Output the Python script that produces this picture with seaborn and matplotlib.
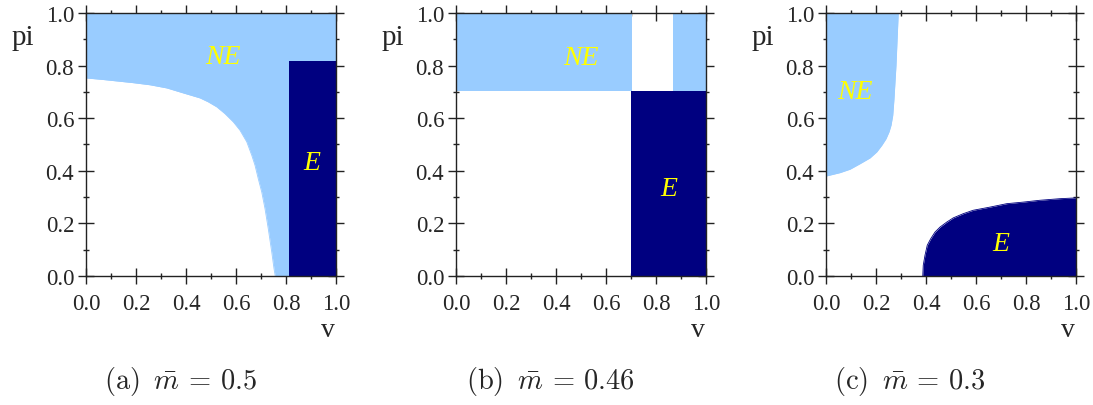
import numpy as np
import pandas as pd
import matplotlib.pyplot as plt
import seaborn as sns
from matplotlib.ticker import MultipleLocator

sns.set_theme(style='ticks')
plt.rcParams['font.family'] = ['Liberation Serif', 'DejaVu Serif']
plt.rcParams['mathtext.fontset'] = 'cm'

light_blue = '#99ccff'
navy = '#000080'
label_yellow = '#ffff00'

# (a) m = 0.5 : lower boundary of the NE region, E block
a_ne_v = [0.0, 0.069, 0.189, 0.256, 0.323, 0.389, 0.456, 0.489, 0.523, 0.556,
          0.589, 0.616, 0.643, 0.663, 0.676, 0.689, 0.703, 0.716, 0.729, 0.743,
          0.752, 0.757]
a_ne_low = [0.753, 0.747, 0.735, 0.727, 0.715, 0.696, 0.677, 0.662, 0.643, 0.617,
            0.586, 0.554, 0.510, 0.459, 0.421, 0.370, 0.319, 0.256, 0.180, 0.091,
            0.028, 0.0]
a_e_v = [0.811, 1.0]
a_e_top = [0.816, 0.816]

# (b) m = 0.46 : NE band split by a gap, E block
b_ne_left_v = [0.0, 0.703]
b_ne_right_v = [0.867, 1.0]
b_ne_low = [0.702, 0.702]
b_e_v = [0.700, 1.0]
b_e_top = [0.702, 0.702]

# (c) m = 0.3 : NE region right boundary (v as function of pi), E upper boundary
c_ne_pi = [0.380, 0.393, 0.406, 0.427, 0.449, 0.472, 0.497, 0.522, 0.548, 0.573,
           0.611, 0.674, 0.738, 0.801, 0.890, 1.0]
c_ne_v = [0.0, 0.056, 0.096, 0.136, 0.176, 0.203, 0.223, 0.240, 0.252, 0.260,
          0.267, 0.272, 0.276, 0.280, 0.284, 0.289]
c_e_v = [0.387, 0.389, 0.396, 0.405, 0.419, 0.436, 0.456, 0.483, 0.509, 0.549,
         0.589, 0.656, 0.723, 0.789, 0.856, 0.936, 1.0]
c_e_top = [0.0, 0.041, 0.079, 0.117, 0.142, 0.167, 0.186, 0.205, 0.221, 0.237,
           0.250, 0.262, 0.275, 0.281, 0.288, 0.294, 0.297]

captions = [r'(a) $\,\bar{m}$ = 0.5',
            r'(b) $\,\bar{m}$ = 0.46',
            r'(c) $\,\bar{m}$ = 0.3']
ne_pos = [(0.547, 0.833), (0.499, 0.829), (0.116, 0.70)]
e_pos = [(0.903, 0.433), (0.852, 0.332), (0.70, 0.123)]
caption_x = [180, 550, 910]
tick_vals = [0.0, 0.2, 0.4, 0.6, 0.8, 1.0]

W, H = 1093, 406
fig = plt.figure(figsize=(W / 100, H / 100), dpi=100)
lefts = [86, 456, 826]
axes = [fig.add_axes([l / W, 129 / H, 250 / W, 263 / H]) for l in lefts]

# panel (a)
ax = axes[0]
ax.fill_between(a_ne_v + [1.0], a_ne_low + [0.0], 1.0, color=light_blue, lw=0)
sns.lineplot(x=a_ne_v, y=a_ne_low, color=light_blue, lw=0.6, ax=ax)
ax.fill_between(a_e_v, 0.0, a_e_top, color=navy, lw=0)

# panel (b)
ax = axes[1]
ax.fill_between(b_ne_left_v, b_ne_low, 1.0, color=light_blue, lw=0)
ax.fill_between(b_ne_right_v, b_ne_low, 1.0, color=light_blue, lw=0)
ax.fill_between(b_e_v, 0.0, b_e_top, color=navy, lw=0)

# panel (c)
ax = axes[2]
ax.fill_betweenx(c_ne_pi, 0.0, c_ne_v, color=light_blue, lw=0)
sns.lineplot(x=c_ne_v, y=c_ne_pi, sort=False, color=light_blue, lw=0.6, ax=ax)
ax.fill_between(c_e_v, 0.0, c_e_top, color=navy, lw=0)
sns.lineplot(x=c_e_v, y=c_e_top, color=navy, lw=0.6, ax=ax)

for i, ax in enumerate(axes):
    ax.set_xlim(0, 1)
    ax.set_ylim(0, 1)
    ax.set_facecolor('white')
    for s in ax.spines.values():
        s.set_visible(True)
        s.set_color('#222222')
        s.set_linewidth(1.0)
    ax.set_xticks(tick_vals)
    ax.set_xticklabels([f'{t:.1f}' for t in tick_vals])
    ax.set_yticks(tick_vals)
    ax.set_yticklabels([f'{t:.1f}' for t in tick_vals])
    ax.xaxis.set_minor_locator(MultipleLocator(0.1))
    ax.yaxis.set_minor_locator(MultipleLocator(0.1))
    ax.tick_params(which='major', direction='inout', length=11, width=1.0,
                   color='#222222', top=True, right=True, labelsize=16.5)
    ax.tick_params(axis='x', which='major', pad=7)
    ax.tick_params(axis='y', which='major', pad=3)
    ax.tick_params(which='minor', direction='inout', length=5, width=1.0,
                   color='#222222', top=True, right=True)
    ax.set_xlabel('')
    ax.set_ylabel('')
    ax.text(-0.252, 0.909, 'pi', transform=ax.transAxes, fontsize=21,
            ha='center', va='center')
    ax.text(0.968, -0.205, 'v', transform=ax.transAxes, fontsize=20,
            ha='center', va='center')
    ax.text(*ne_pos[i], 'NE', fontsize=20, style='italic', color=label_yellow,
            ha='center', va='center')
    ax.text(*e_pos[i], 'E', fontsize=20, style='italic', color=label_yellow,
            ha='center', va='center')
    fig.text(caption_x[i] / W, 24 / H, captions[i], fontsize=20.5,
             family='cmr10', ha='center', va='center')

fig.savefig('out.png', dpi=100)
